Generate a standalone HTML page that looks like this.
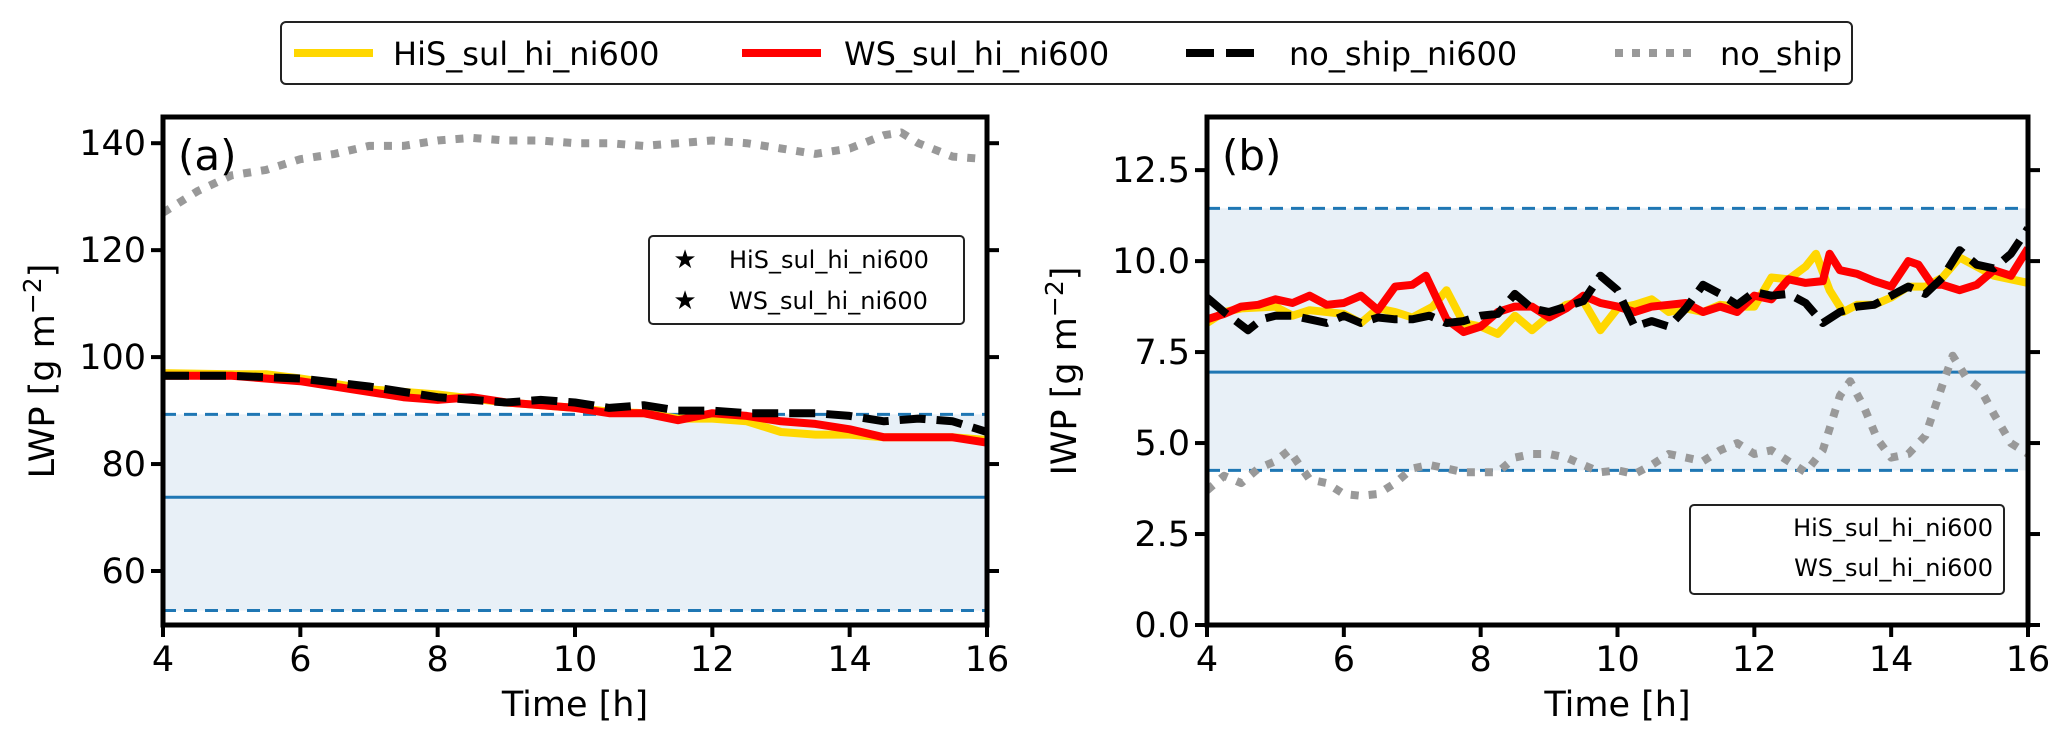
<!DOCTYPE html>
<html><head><meta charset="utf-8"><style>
body{margin:0;background:#fff}
svg{display:block;font-family:"DejaVu Sans","Liberation Sans",sans-serif}
</style></head><body>
<svg id="fig" width="2067" height="742" viewBox="0 0 2067 742" xmlns="http://www.w3.org/2000/svg">
<g>
<rect x="281" y="22" width="1571" height="62" rx="5" fill="#fff" stroke="#222" stroke-width="2"/>
<line x1="294" y1="53" x2="373" y2="53" stroke="#FFD700" stroke-width="8"/>
<text x="393" y="65" font-size="32">HiS_sul_hi_ni600</text>
<line x1="742" y1="53" x2="821" y2="53" stroke="#f00" stroke-width="8"/>
<text x="844" y="65" font-size="32">WS_sul_hi_ni600</text>
<line x1="1186" y1="53" x2="1265" y2="53" stroke="#000" stroke-width="8" stroke-dasharray="28,12"/>
<text x="1289" y="65" font-size="32">no_ship_ni600</text>
<line x1="1615" y1="53" x2="1694" y2="53" stroke="#999" stroke-width="8" stroke-dasharray="8,9"/>
<text x="1720" y="65" font-size="32">no_ship</text>
</g>
</svg>
<script>
// Panel (a) LWP data
const aGreyX=[4,4.5,5,5.5,6,6.5,7,7.5,8,8.5,9,9.5,10,10.5,11,11.5,12,12.5,13,13.5,14,14.5,14.75,15,15.5,16];
const aGreyY=[127,131,134,135,137,138,139.5,139.5,140.5,141,140.5,140.5,140,140,139.5,140,140.5,140,139,138,139,141.5,142,140,137.5,137];
const aYelX=[4,5,5.5,6,6.5,7,8,9,10,10.5,11,11.5,12,12.5,13,13.5,14,14.5,15,15.5,16];
const aYelY=[97,96.8,96.8,96,95,94,93,91.5,90.5,89.8,89.5,88.5,88.5,88,86,85.5,85.5,85,85,85,84.5];
const aRedX=[4,5,6,7,7.5,8,8.5,9,10,10.5,11,11.5,12,12.5,13,13.5,14,14.5,15,15.5,16];
const aRedY=[96.5,96.5,95.5,93.5,92.5,92,92.5,91.5,90.5,89.5,89.5,88.2,89.5,89,88,87.5,86.5,85,85,85,84];
const aBlkX=[4,5,6,7,8,9,9.5,10,10.5,11,11.5,12,12.5,13,13.5,14,14.5,15,15.5,16];
const aBlkY=[96.5,96.5,96,94.5,92.5,91.5,92,91.5,90.5,91,90,90,89.5,89.5,89.5,89,88,88.5,88,86];
const aBand=[52.6,73.8,89.3];
const aTicks=[60,80,100,120,140];
// Panel (b) IWP data
const bRedX=[4,4.25,4.5,4.75,5,5.25,5.5,5.75,6,6.25,6.5,6.75,7,7.2,7.5,7.75,8,8.25,8.5,8.75,9,9.25,9.5,9.75,10,10.25,10.5,10.75,11,11.25,11.5,11.75,12,12.25,12.5,12.75,13,13.1,13.25,13.5,13.75,14,14.25,14.4,14.6,14.75,15,15.25,15.5,15.75,16];
const bRedY=[8.4,8.55,8.75,8.8,8.95,8.85,9.05,8.8,8.85,9.05,8.65,9.3,9.35,9.6,8.4,8.05,8.2,8.6,8.75,8.75,8.45,8.7,9.05,8.85,8.75,8.6,8.75,8.8,8.85,8.6,8.75,8.6,9.05,8.95,9.5,9.4,9.45,10.2,9.75,9.65,9.45,9.3,10.0,9.9,9.35,9.35,9.2,9.35,9.75,9.6,10.35];
const bYelX=[4,4.25,4.5,5,5.25,5.5,6,6.25,6.5,6.75,7,7.3,7.5,7.75,8,8.25,8.5,8.75,9,9.25,9.5,9.75,10,10.25,10.5,10.75,11,11.25,11.5,11.75,12,12.25,12.5,12.75,12.9,13.1,13.3,13.5,13.75,14,14.25,14.5,14.75,15,15.25,15.5,16];
const bYelY=[8.3,8.6,8.7,8.75,8.5,8.65,8.55,8.3,8.7,8.6,8.45,8.75,9.2,8.3,8.2,8.0,8.5,8.1,8.5,8.8,8.9,8.1,8.7,8.8,8.95,8.6,8.7,8.6,8.8,8.75,8.75,9.55,9.5,9.85,10.2,9.2,8.6,8.8,8.8,9.0,9.3,9.3,9.55,10.1,9.85,9.6,9.4];
const bBlkX=[4,4.25,4.6,4.8,5,5.25,5.5,5.75,6,6.25,6.5,6.75,7,7.25,7.5,7.75,8,8.25,8.5,8.75,9,9.25,9.5,9.75,10,10.25,10.5,10.75,11,11.25,11.5,11.75,12,12.25,12.5,12.75,13,13.25,13.5,13.75,14,14.25,14.5,14.75,15,15.25,15.5,15.75,16];
const bBlkY=[9.0,8.6,8.1,8.4,8.5,8.5,8.4,8.3,8.5,8.3,8.45,8.4,8.4,8.5,8.3,8.35,8.5,8.55,9.1,8.7,8.6,8.75,8.9,9.6,9.2,8.2,8.35,8.2,8.7,9.35,9.1,8.8,9.15,9.05,9.1,8.85,8.3,8.6,8.75,8.8,9.05,9.3,9.1,9.55,10.3,9.9,9.8,10.2,10.9];
const bGreyX=[4,4.25,4.5,4.75,5,5.2,5.5,5.75,6,6.25,6.5,6.75,7,7.25,7.5,7.75,8,8.25,8.5,8.75,9,9.25,9.5,9.75,10,10.25,10.5,10.75,11,11.25,11.5,11.75,12,12.25,12.5,12.75,13,13.25,13.4,13.6,13.8,14,14.25,14.5,14.75,14.9,15.1,15.3,15.5,15.75,16];
const bGreyY=[3.7,4.1,3.9,4.3,4.5,4.8,4.0,3.9,3.6,3.55,3.6,3.9,4.3,4.4,4.3,4.2,4.2,4.2,4.6,4.7,4.7,4.6,4.4,4.2,4.25,4.15,4.4,4.7,4.6,4.5,4.8,5.0,4.7,4.8,4.5,4.2,4.8,6.3,6.7,6.0,5.1,4.6,4.7,5.2,6.6,7.4,6.8,6.5,5.8,5.0,4.7];
const bBand=[4.25,6.95,11.45];
const bTicks=[0,2.5,5,7.5,10,12.5];
const xTicks=[4,6,8,10,12,14,16];

const NS="http://www.w3.org/2000/svg";
const svg=document.getElementById('fig');
function mk(tag,attrs,parent){const e=document.createElementNS(NS,tag);for(const k in attrs)e.setAttribute(k,attrs[k]);(parent||svg).appendChild(e);return e;}

function panel(cfg){
  const {L,R,T,B,ymin,ymax,name}=cfg;
  const g=mk('g',{});
  
  
  const sx=v=>L+(v-4)/12*(R-L);
  const sy=v=>B-(v-ymin)/(ymax-ymin)*(B-T);
  const cp=mk('clipPath',{id:'cp'+name},g);
  mk('rect',{x:L,y:T,width:R-L,height:B-T},cp);
  const inner=mk('g',{'clip-path':'url(#cp'+name+')'},g);
  const band=mk('rect',{x:L,y:sy(cfg.band[2]),width:R-L,height:sy(cfg.band[0])-sy(cfg.band[2]),fill:'#e8f0f7'},inner);
  
  
  [0,2].forEach(i=>{const l=mk('line',{x1:L,x2:R,y1:sy(cfg.band[i]),y2:sy(cfg.band[i]),stroke:'#1f77b4','stroke-width':3,'stroke-dasharray':'13,8'},inner);
    
    });
  const ml=mk('line',{x1:L,x2:R,y1:sy(cfg.band[1]),y2:sy(cfg.band[1]),stroke:'#1f77b4','stroke-width':3},inner);
  
  
  const series=[
    [cfg.grey,'#999','8,10','no-ship-line'],
    [cfg.yel,'#FFD700','','his-line'],
    [cfg.red,'#f00','','ws-line'],
    [cfg.blk,'#000','26,11','no-ship-ni600-line']];
  series.forEach(([d,c,dash,nm])=>{
    const pts=d[0].map((x,i)=>sx(x).toFixed(1)+','+sy(d[1][i]).toFixed(1)).join(' ');
    const p=mk('polyline',{points:pts,fill:'none',stroke:c,'stroke-width':8,'stroke-linejoin':'round','stroke-dasharray':dash||'none'},inner);
    
    
  });
  mk('rect',{x:L,y:T,width:R-L,height:B-T,fill:'none',stroke:'#000','stroke-width':5},g);
  xTicks.forEach(v=>{
    mk('line',{x1:sx(v),x2:sx(v),y1:B,y2:B+12,stroke:'#000','stroke-width':4},g);
    const t=mk('text',{x:sx(v),y:B+46,'font-size':35,'text-anchor':'middle'},g);t.textContent=v;
    
    
  });
  cfg.ticks.forEach(v=>{
    mk('line',{x1:L-12,x2:L,y1:sy(v),y2:sy(v),stroke:'#000','stroke-width':4},g);
    mk('line',{x1:R,x2:R+12,y1:sy(v),y2:sy(v),stroke:'#000','stroke-width':4},g);
    const t=mk('text',{x:L-17,y:sy(v)+12,'font-size':35,'text-anchor':'end'},g);t.textContent=cfg.fmt(v);
    
    
  });
  const xl=mk('text',{x:(L+R)/2,y:716,'font-size':35,'text-anchor':'middle'},g);xl.textContent='Time [h]';
  
  
  const yl=mk('text',{x:0,y:0,'font-size':35,'text-anchor':'middle',transform:`translate(${cfg.ylx},${(T+B)/2}) rotate(-90)`},g);
  yl.innerHTML=cfg.ylab+' [g m<tspan dy="-13" font-size="25">−2</tspan><tspan dy="13">]</tspan>';
  
  
  const pl=mk('text',{x:L+15,y:T+53,'font-size':42},g);pl.textContent=cfg.plabel;
  
  
  return g;
}
panel({name:'panel-a',L:163,R:987,T:117,B:625,ymin:49.9,ymax:144.9,band:aBand,ticks:aTicks,fmt:v=>v,
  grey:[aGreyX,aGreyY],yel:[aYelX,aYelY],red:[aRedX,aRedY],blk:[aBlkX,aBlkY],ylab:'LWP',ylx:54,plabel:'(a)'});
panel({name:'panel-b',L:1207,R:2028,T:117,B:625,ymin:0,ymax:13.96,band:bBand,ticks:bTicks,fmt:v=>v.toFixed(1),
  grey:[bGreyX,bGreyY],yel:[bYelX,bYelY],red:[bRedX,bRedY],blk:[bBlkX,bBlkY],ylab:'IWP',ylx:1076,plabel:'(b)'});

// inner legends
const la=mk('g',{});


mk('rect',{x:649,y:236,width:315,height:88,rx:4,fill:'#fff',stroke:'#222','stroke-width':2},la);
[['HiS_sul_hi_ni600',259],['WS_sul_hi_ni600',300]].forEach(([s,y])=>{
  const st=mk('text',{x:685,y:y+9,'font-size':26,'text-anchor':'middle'},la);st.textContent='★';
  const t=mk('text',{x:729,y:y+9,'font-size':24},la);t.textContent=s;
});
const lb=mk('g',{});


mk('rect',{x:1690,y:505,width:314,height:89,rx:4,fill:'#fff',stroke:'#222','stroke-width':2},lb);
[['HiS_sul_hi_ni600',527],['WS_sul_hi_ni600',567]].forEach(([s,y])=>{
  const t=mk('text',{x:1993,y:y+9,'font-size':24,'text-anchor':'end'},lb);t.textContent=s;
});
</script>
</body></html>
